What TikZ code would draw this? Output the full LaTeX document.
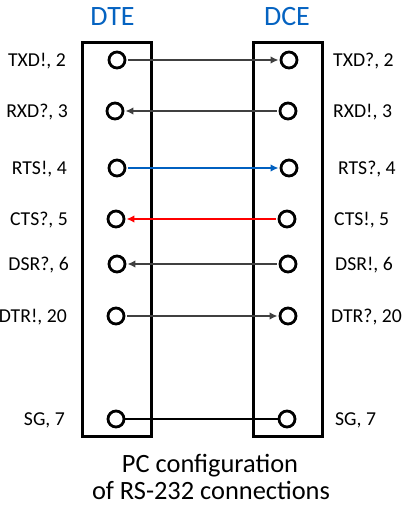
\documentclass[tikz,border=0pt]{standalone}
\usepackage{fontspec}
\setmainfont{Carlito}
\usetikzlibrary{arrows.meta}
\definecolor{lnGray}{RGB}{64,64,64}
\definecolor{lnBlue}{RGB}{0,96,192}
\definecolor{lnRed}{RGB}{255,0,0}
\definecolor{ttBlue}{RGB}{5,99,193}
\tikzset{
  pin/.style={circle,draw=black,line width=2.8pt,minimum size=16pt,inner sep=0pt,fill=white},
  devbox/.style={draw=black,line width=3pt},
  lbl/.style={font=\fontsize{19.7}{22}\selectfont,inner sep=0pt},
  ttl/.style={font=\fontsize{28}{32}\selectfont,text=ttBlue,inner sep=0pt,anchor=base},
  capt/.style={font=\fontsize{26.4}{30}\selectfont,inner sep=0pt,anchor=base},
  wire/.style={line width=2.5pt,-{Latex[length=8pt,width=7.5pt]},shorten >=1pt,shorten <=2pt},
}
\begin{document}
\begin{tikzpicture}[x=1pt,y=-1pt]
\useasboundingbox (0,0) rectangle (406,507);
% boxes
\draw[devbox] (82,42) rectangle (151,436);
\draw[devbox] (253,42) rectangle (322,436);
% titles
\node[ttl] (dte) at (112.5,25) {DTE};
\node[ttl] (dce) at (287,25) {DCE};
% pins left
\node[pin] (l1) at (117,60) {};
\node[pin] (l2) at (115,111) {};
\node[pin] (l3) at (117,168) {};
\node[pin] (l4) at (116,219) {};
\node[pin] (l5) at (117,264) {};
\node[pin] (l6) at (116,316) {};
\node[pin] (l7) at (116,419) {};
% pins right
\node[pin] (r1) at (289,60) {};
\node[pin] (r2) at (288,111) {};
\node[pin] (r3) at (289,168) {};
\node[pin] (r4) at (287,219) {};
\node[pin] (r5) at (288,264) {};
\node[pin] (r6) at (288,316) {};
\node[pin] (r7) at (287,419) {};
% labels left
\node[lbl,anchor=base east] (tl1) at (66,66.5) {TXD!, 2};
\node[lbl,anchor=base east] (tl2) at (68,117.5) {RXD?, 3};
\node[lbl,anchor=base east] (tl3) at (67,174.5) {RTS!, 4};
\node[lbl,anchor=base east] (tl4) at (68,225.5) {CTS?, 5};
\node[lbl,anchor=base east] (tl5) at (69,270.5) {DSR?, 6};
\node[lbl,anchor=base east] (tl6) at (67,322.5) {DTR!, 20};
\node[lbl,anchor=base east] (tl7) at (65,425.5) {SG, 7};
% labels right
\node[lbl,anchor=base west] (tr1) at (333,66.5) {TXD?, 2};
\node[lbl,anchor=base west] (tr2) at (333,117.5) {RXD!, 3};
\node[lbl,anchor=base west] (tr3) at (338,174.5) {RTS?, 4};
\node[lbl,anchor=base west] (tr4) at (334,225.5) {CTS!, 5};
\node[lbl,anchor=base west] (tr5) at (335,270.5) {DSR!, 6};
\node[lbl,anchor=base west] (tr6) at (331,322.5) {DTR?, 20};
\node[lbl,anchor=base west] (tr7) at (335,425.5) {SG, 7};
% wires
\draw[wire,lnGray] (l1) -- (r1);
\draw[wire,lnGray] (r2) -- (l2);
\draw[wire,lnBlue] (l3) -- (r3);
\draw[wire,lnRed] (r4) -- (l4);
\draw[wire,lnGray] (r5) -- (l5);
\draw[wire,lnGray] (l6) -- (r6);
\draw[line width=2.5pt,black] (l7) -- (r7);
% caption
\node[capt] (cap1) at (210,472) {PC configuration};
\node[capt] (cap2) at (211,499) {of RS-232 connections};
\end{tikzpicture}
\end{document}
